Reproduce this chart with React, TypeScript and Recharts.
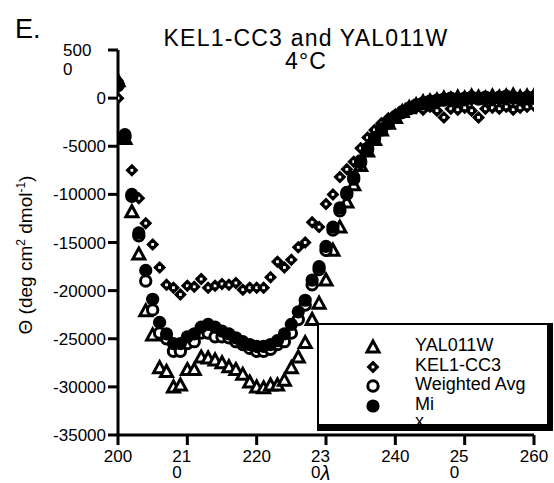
import React from "react";
import { ScatterChart, Scatter, XAxis, YAxis } from "recharts";

// wavelength (nm)
const wavelengths = [
  200, 201, 202, 203, 204, 205, 206, 207, 208, 209,
  210, 211, 212, 213, 214, 215, 216, 217, 218, 219,
  220, 221, 222, 223, 224, 225, 226, 227, 228, 229,
  230, 231, 232, 233, 234, 235, 236, 237, 238, 239,
  240, 241, 242, 243, 244, 245, 246, 247, 248, 249,
  250, 251, 252, 253, 254, 255, 256, 257, 258, 259, 260,
];

// mean residue ellipticity (deg cm2 dmol-1)
const yal011w = [
  1800, -4200, -11800, -16200, -22100, -24600, -28000, -28400, -30000, -29800,
  -28200, -28200, -26900, -27000, -27200, -27500, -27900, -28200, -28700, -29500,
  -30000, -30100, -29800, -29800, -29300, -28000, -26900, -25400, -23000, -21300,
  -18900, -15800, -13400, -10800, -9000, -7000, -5500, -4300, -3300, -2600,
  -2000, -1400, -1000, -700, -400, -300, -200, 0, -100, 100,
  0, 200, 100, 0, 200, 100, 200, 300, 100, 200, 200,
];

const kel1cc3 = [
  0, -4200, -7500, -10400, -13000, -15200, -17600, -19400, -19700, -20400,
  -19500, -19600, -18800, -19700, -19500, -19300, -19400, -19200, -19900, -19700,
  -19700, -19700, -18600, -17000, -17600, -16800, -15500, -15000, -12900, -13400,
  -11000, -10000, -8200, -7400, -6600, -5200, -4100, -3300, -2600, -2100,
  -1700, -1300, -1000, -1000, -1200, -900, -1300, -2000, -1100, -1200,
  -1000, -1300, -2000, -1100, -1000, -1100, -900, -1200, -1000, -900, -800,
];

const weightedAvg = [
  1300, -4000, -10200, -14300, -19000, -22000, -24400, -25000, -26300, -26300,
  -25500, -25300, -24400, -24400, -24800, -24800, -24900, -25300, -25600, -26000,
  -26300, -26300, -26100, -25600, -25300, -24400, -23000, -21500, -19400, -17800,
  -15800, -13700, -11700, -10000, -8400, -6700, -5300, -4200, -3300, -2600,
  -2000, -1500, -1100, -800, -600, -400, -300, -200, -100, -200,
  -100, 0, -100, 0, -100, 0, 100, 0, -100, 0, 0,
];

const mi = [
  1500, -3800, -10000, -14000, -17900, -20900, -23300, -24500, -25500, -25500,
  -24800, -24500, -23800, -23500, -23800, -24200, -24500, -24900, -25300, -25600,
  -25800, -25800, -25600, -25200, -24500, -23500, -22200, -21000, -18900, -17500,
  -15400, -13400, -11400, -9800, -8200, -6500, -5200, -4100, -3200, -2500,
  -1900, -1400, -1000, -700, -500, -300, -200, -100, 0, -100,
  0, 100, 0, 100, 0, 100, 200, 100, 0, 100, 100,
];

const xTicks = [200, 210, 220, 230, 240, 250, 260];
const yTicks = [-35000, -30000, -25000, -20000, -15000, -10000, -5000, 0, 5000];

const toPoints = (vals: number[]) =>
  wavelengths.map((w, i) => ({ x: w, y: vals[i] }));

const FONT = '"Liberation Sans", Arial, Helvetica, sans-serif';

const Triangle = ({ cx, cy }: any) => (
  <path
    d={`M${cx},${cy - 6} L${cx + 6},${cy + 5} L${cx - 6},${cy + 5} Z`}
    fill="#fff"
    stroke="#000"
    strokeWidth={3}
    strokeLinejoin="miter"
  />
);

const Diamond = ({ cx, cy }: any) => (
  <g>
    <path
      d={`M${cx},${cy - 6.5} L${cx + 6.5},${cy} L${cx},${cy + 6.5} L${cx - 6.5},${cy} Z`}
      fill="#000"
    />
    <rect x={cx - 1.4} y={cy - 1.4} width={2.8} height={2.8} fill="#fff" />
  </g>
);

const OpenCircle = ({ cx, cy }: any) => (
  <circle cx={cx} cy={cy} r={5.2} fill="#fff" stroke="#000" strokeWidth={3} />
);

const FilledCircle = ({ cx, cy }: any) => (
  <circle cx={cx} cy={cy} r={6.6} fill="#000" />
);

const XTick = ({ x, y, payload }: any) => {
  const v = payload.value;
  const s = String(v);
  if (v === 210 || v === 230 || v === 250) {
    return (
      <text x={x - 15} y={y} fontFamily={FONT} fontSize={17} fill="#000" textAnchor="start">
        <tspan x={x - 15} dy={15}>
          {s.slice(0, 2)}
        </tspan>
        <tspan x={x - 15} dy={16}>
          {s.slice(2)}
        </tspan>
        {v === 230 && (
          <tspan dy={2} fontSize={20} fontStyle="italic">
            λ
          </tspan>
        )}
      </text>
    );
  }
  return (
    <text x={x} y={y} dy={15} textAnchor="middle" fontFamily={FONT} fontSize={17} fill="#000">
      {s}
    </text>
  );
};

const YTick = ({ x, y, payload }: any) => {
  const v = payload.value;
  if (v === 5000) {
    return (
      <text x={x - 43} y={y} fontFamily={FONT} fontSize={17} fill="#000" textAnchor="start">
        <tspan x={x - 43} dy={6}>
          500
        </tspan>
        <tspan x={x - 43} dy={19}>
          0
        </tspan>
      </text>
    );
  }
  return (
    <text x={x} y={y} dy={6} textAnchor="end" fontFamily={FONT} fontSize={17} fill="#000">
      {v}
    </text>
  );
};

const legendItems = [
  { name: "YAL011W", Shape: Triangle },
  { name: "KEL1-CC3", Shape: Diamond },
  { name: "Weighted Avg", Shape: OpenCircle },
  { name: "Mi", Shape: FilledCircle },
];

export default function App() {
  return (
    <div
      style={{
        position: "absolute",
        left: 0,
        top: 0,
        width: 554,
        height: 483,
        background: "#fff",
        fontFamily: FONT,
        color: "#000",
      }}
    >
      <ScatterChart
        width={554}
        height={483}
        margin={{ top: 50, right: 20, bottom: 0, left: 0 }}
      >
        <XAxis
          type="number"
          dataKey="x"
          domain={[200, 260]}
          ticks={xTicks}
          interval={0}
          height={48}
          tickSize={10}
          axisLine={{ stroke: "#000", strokeWidth: 3 }}
          tickLine={{ stroke: "#000", strokeWidth: 3 }}
          tick={<XTick />}
          allowDataOverflow
        />
        <YAxis
          type="number"
          dataKey="y"
          domain={[-35000, 5000]}
          ticks={yTicks}
          interval={0}
          width={118}
          tickSize={10}
          axisLine={{ stroke: "#000", strokeWidth: 3 }}
          tickLine={{ stroke: "#000", strokeWidth: 3 }}
          tick={<YTick />}
          allowDataOverflow
        />
        <Scatter data={toPoints(yal011w)} shape={<Triangle />} isAnimationActive={false} />
        <Scatter data={toPoints(kel1cc3)} shape={<Diamond />} isAnimationActive={false} />
        <Scatter data={toPoints(weightedAvg)} shape={<OpenCircle />} isAnimationActive={false} />
        <Scatter data={toPoints(mi)} shape={<FilledCircle />} isAnimationActive={false} />
      </ScatterChart>

      <div style={{ position: "absolute", left: 15, top: 14, fontSize: 27, lineHeight: "30px" }}>
        E.
      </div>
      <div
        style={{
          position: "absolute",
          left: 106,
          top: 27,
          width: 400,
          textAlign: "center",
          fontSize: 23,
          lineHeight: "23px",
          letterSpacing: 1.2,
        }}
      >
        KEL1-CC3 and YAL011W
        <br />
        4°C
      </div>
      <div
        style={{
          position: "absolute",
          left: 21 - 130,
          top: 255 - 11,
          width: 260,
          height: 22,
          lineHeight: "22px",
          textAlign: "center",
          fontSize: 19,
          transform: "rotate(-90deg)",
          whiteSpace: "nowrap",
        }}
      >
        Θ (deg cm<sup style={{ fontSize: 12 }}>2</sup> dmol<sup style={{ fontSize: 12 }}>-1</sup>)
      </div>

      <div
        style={{
          position: "absolute",
          left: 317,
          top: 323,
          width: 228,
          height: 99,
          borderTop: "2px solid #000",
          borderLeft: "2px solid #000",
          borderRight: "6px solid #000",
          borderBottom: "7px solid #000",
          background: "#fff",
          overflow: "hidden",
        }}
      >
        {legendItems.map((it, i) => (
          <div
            key={it.name}
            style={{ position: "absolute", left: 0, top: 10 + i * 19.5, height: 20, width: 228 }}
          >
            <svg width={30} height={20} style={{ position: "absolute", left: 40, top: 0 }}>
              <it.Shape cx={14} cy={12} />
            </svg>
            <span
              style={{
                position: "absolute",
                left: 96,
                top: 0,
                fontSize: 18,
                lineHeight: "20px",
                whiteSpace: "nowrap",
              }}
            >
              {it.name}
            </span>
          </div>
        ))}
        <span
          style={{ position: "absolute", left: 96, top: 86, fontSize: 18, lineHeight: "20px" }}
        >
          x
        </span>
      </div>
    </div>
  );
}
